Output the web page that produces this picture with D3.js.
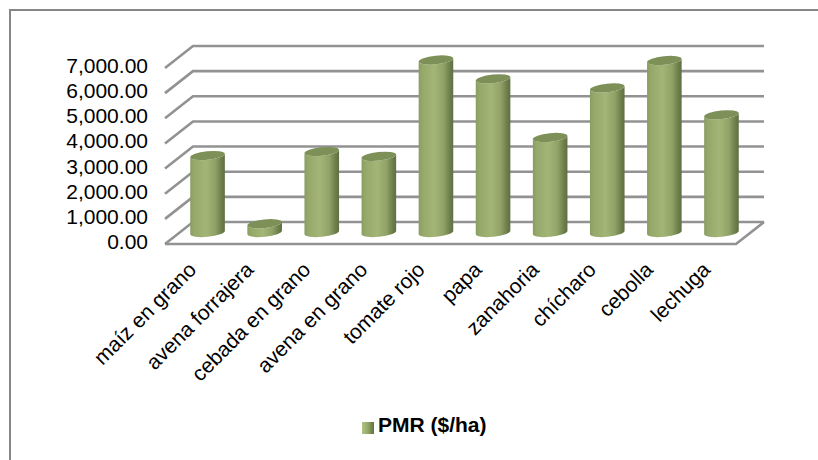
<!DOCTYPE html>
<html>
<head>
<meta charset="utf-8">
<script src="https://cdn.jsdelivr.net/npm/d3@7"></script>
<style>
  html, body { margin: 0; padding: 0; background: #fff; }
  svg { display: block; }
  text { font-family: "Liberation Sans", Arial, sans-serif; fill: #000; }
</style>
</head>
<body>
<svg id="chart" width="818" height="460"></svg>
<script>
const categories = ["maíz en grano", "avena forrajera", "cebada en grano", "avena en grano", "tomate rojo", "papa", "zanahoria", "chícharo", "cebolla", "lechuga"];
const pmrValues = [3060, 350, 3220, 3030, 6860, 6110, 3780, 5750, 6840, 4680];
const yTicks = [0, 1000, 2000, 3000, 4000, 5000, 6000, 7000];
const seriesName = "PMR ($/ha)";

const svg = d3.select("#chart");

// Front plane of the 3D box and the depth offset of its back wall
const front = { left: 165, right: 736, bottom: 244, top: 68 };
const depth = { x: 28, y: -22 };

const x = d3.scaleBand().domain(categories).range([front.left, front.right]);
const y = d3.scaleLinear().domain([0, 7000]).range([front.bottom, front.top]);

const defs = svg.append("defs");
const body = defs.append("linearGradient").attr("id", "cylBody");
[[0, "#8a9d62"], [0.1, "#95a86a"], [0.45, "#a3b677"], [0.72, "#90a266"], [0.9, "#6d7e4b"], [1, "#5f6f42"]]
  .forEach(([o, c]) => body.append("stop").attr("offset", o).attr("stop-color", c));
const swatch = defs.append("linearGradient").attr("id", "swatchFill");
[[0, "#b0c484"], [0.5, "#93a666"], [1, "#5f7040"]]
  .forEach(([o, c]) => swatch.append("stop").attr("offset", o).attr("stop-color", c));

// Chart frame: only the top and left edges fall inside the page
svg.append("path")
  .attr("d", "M10,460V10H818")
  .attr("fill", "none").attr("stroke", "#868686").attr("stroke-width", 2);

// Gridlines on the back wall and their returns down the left wall
const gridColor = "#929292";
const grid = svg.append("g").attr("fill", "none").attr("stroke", gridColor).attr("stroke-width", 2.6);
grid.selectAll("path.wall").data(yTicks).join("path").attr("class", "wall")
  .attr("d", d => {
    const yy = y(d);
    return `M${front.left},${yy}L${front.left + depth.x},${yy + depth.y}L${front.right + depth.x},${yy + depth.y}`;
  });

// Floor edges
grid.append("path")
  .attr("d", `M${front.left},${y(0)}L${front.right},${y(0)}L${front.right + depth.x},${y(0) + depth.y}`);

// Cylinders stand halfway back on the floor
const rx = 17.4, ry = 4.3, tilt = -6;
const tiltRad = tilt * Math.PI / 180;
const dx = rx * Math.cos(tiltRad), dy = rx * Math.sin(tiltRad);
const baseY = y(0) + depth.y / 2 - 0.5;
const cx = d => x(d) + x.bandwidth() / 2 + depth.x / 2;
const topY = v => baseY - (y(0) - y(v));

const bars = svg.append("g").selectAll("g")
  .data(categories.map((c, i) => ({ c, v: pmrValues[i] })))
  .join("g");

bars.append("path")
  .attr("fill", "url(#cylBody)")
  .attr("d", d => {
    const c = cx(d.c), t = topY(d.v);
    return `M${c - dx},${t - dy}L${c - dx},${baseY - dy}` +
      `A${rx},${ry} ${tilt} 0 0 ${c + dx},${baseY + dy}` +
      `L${c + dx},${t + dy}A${rx},${ry} ${tilt} 0 1 ${c - dx},${t - dy}Z`;
  });

bars.append("ellipse")
  .attr("rx", rx).attr("ry", ry).attr("fill", "#7d9057")
  .attr("transform", d => `translate(${cx(d.c)},${topY(d.v)}) rotate(${tilt})`);

// Value axis labels
svg.append("g").selectAll("text").data(yTicks).join("text")
  .attr("x", 148).attr("y", d => y(d) - 0.5)
  .attr("text-anchor", "end").attr("dominant-baseline", "middle")
  .attr("font-size", 21)
  .text(d => d3.format(",.2f")(d));

// Category labels, rotated and ending under each cylinder
svg.append("g").selectAll("text").data(categories).join("text")
  .attr("text-anchor", "end")
  .attr("font-size", 21)
  .attr("transform", d => `translate(${x(d) + x.bandwidth() / 2 + 4},271) rotate(-45)`)
  .text(d => d);

// Legend
svg.append("rect")
  .attr("x", 362).attr("y", 422).attr("width", 12).attr("height", 12)
  .attr("fill", "url(#swatchFill)");
svg.append("text")
  .attr("x", 378).attr("y", 432)
  .attr("font-size", 21).attr("font-weight", "bold")
  .text(seriesName);
</script>
</body>
</html>
